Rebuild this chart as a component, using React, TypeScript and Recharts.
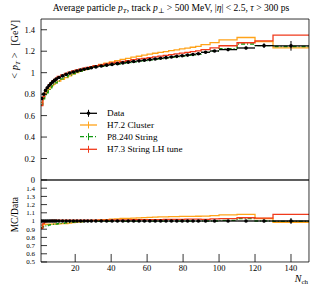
import { ComposedChart, Line, Scatter, XAxis, YAxis, ErrorBar } from 'recharts';

// Nch bin edges (46 edges -> 45 bins)
const binEdges = [
  1, 2, 3, 4, 5, 6, 7, 8, 9, 10,
  12, 14, 16, 18, 20, 22, 24, 26, 28, 30,
  33, 36, 39, 42, 45, 48, 51, 54, 57, 60,
  63, 66, 69, 72, 75, 78, 81, 84, 87, 90,
  95, 100, 110, 120, 130, 150,
];

// <pT> [GeV] per bin
const dataMean = [
  0.760, 0.800, 0.835, 0.860, 0.880, 0.898, 0.914, 0.928, 0.940,
  0.955, 0.970, 0.984, 0.996, 1.006, 1.015, 1.024, 1.032, 1.039, 1.046,
  1.054, 1.062, 1.070, 1.077, 1.084, 1.091, 1.098, 1.104, 1.110, 1.116,
  1.122, 1.128, 1.134, 1.140, 1.146, 1.152, 1.158, 1.164, 1.170, 1.177,
  1.190, 1.202, 1.215, 1.230, 1.252, 1.250,
];
const dataErr = [
  0.004, 0.004, 0.004, 0.004, 0.004, 0.004, 0.004, 0.004, 0.004,
  0.004, 0.004, 0.004, 0.004, 0.004, 0.004, 0.004, 0.004, 0.004, 0.004,
  0.004, 0.004, 0.004, 0.004, 0.004, 0.004, 0.004, 0.004, 0.004, 0.004,
  0.004, 0.004, 0.004, 0.004, 0.004, 0.004, 0.004, 0.004, 0.005, 0.005,
  0.006, 0.007, 0.009, 0.013, 0.022, 0.045,
];
const h72Cluster = [
  0.722, 0.764, 0.800, 0.826, 0.845, 0.864, 0.879, 0.894, 0.905,
  0.922, 0.938, 0.954, 0.971, 0.986, 1.000, 1.014, 1.027, 1.039, 1.050,
  1.062, 1.076, 1.089, 1.101, 1.112, 1.124, 1.134, 1.144, 1.153, 1.163,
  1.172, 1.181, 1.190, 1.197, 1.206, 1.213, 1.222, 1.229, 1.237, 1.245,
  1.261, 1.280, 1.306, 1.328, 1.290, 1.231,
];
const p8String = [
  0.699, 0.744, 0.785, 0.813, 0.836, 0.858, 0.876, 0.892, 0.905,
  0.923, 0.943, 0.961, 0.977, 0.991, 1.003, 1.015, 1.025, 1.034, 1.043,
  1.052, 1.059, 1.067, 1.074, 1.081, 1.088, 1.095, 1.101, 1.107, 1.113,
  1.119, 1.125, 1.131, 1.137, 1.143, 1.149, 1.155, 1.161, 1.167, 1.173,
  1.190, 1.202, 1.225, 1.267, 1.252, 1.244,
];
const h73String = [
  0.692, 0.776, 0.827, 0.860, 0.884, 0.905, 0.923, 0.937, 0.949,
  0.965, 0.980, 0.994, 1.006, 1.016, 1.025, 1.034, 1.042, 1.049, 1.056,
  1.065, 1.073, 1.082, 1.090, 1.097, 1.105, 1.113, 1.121, 1.128, 1.134,
  1.141, 1.148, 1.154, 1.162, 1.169, 1.175, 1.182, 1.190, 1.196, 1.204,
  1.214, 1.232, 1.251, 1.279, 1.296, 1.350,
];

const xTicks = [20, 40, 60, 80, 100, 120, 140];
const mainYTicks = [0, 0.2, 0.4, 0.6, 0.8, 1, 1.2, 1.4];
const ratioYTicks = [0.5, 0.6, 0.7, 0.8, 0.9, 1, 1.1, 1.2, 1.3, 1.4];

const xMinor = Array.from({ length: 30 }, (_, i) => i * 5).filter((v) => v >= 1);
const mainYMinor = Array.from({ length: 31 }, (_, i) => +(i * 0.05).toFixed(2));
const ratioYMinor = Array.from({ length: 51 }, (_, i) => +(0.5 + i * 0.02).toFixed(2));

const FONT = '"Liberation Serif", "DejaVu Serif", serif';
const BLACK = '#000000';
const ORANGE = '#ffa31a';
const GREEN = '#119911';
const RED = '#f03a1c';
const THIN = 0.01; // axes need a non-zero size to be drawn

const last = dataMean.length - 1;
const histRows = binEdges.map((x, i) => {
  const k = Math.min(i, last);
  return {
    x,
    h72: h72Cluster[k],
    p8: p8String[k],
    h73: h73String[k],
    h72r: h72Cluster[k] / dataMean[k],
    p8r: p8String[k] / dataMean[k],
    h73r: h73String[k] / dataMean[k],
  };
});

const pointRows = dataMean.map((y, i) => ({
  x: (binEdges[i] + binEdges[i + 1]) / 2,
  xerr: (binEdges[i + 1] - binEdges[i]) / 2,
  y,
  yerr: dataErr[i],
  r: 1,
  rerr: dataErr[i] / y,
}));

const frameLine = { stroke: BLACK, strokeWidth: 0.8 };

function frameAxes(
  yDomain: [number, number],
  yMajor: number[],
  yMinor: number[],
  showX: boolean,
  yFontSize: number,
) {
  const yFont = { fontSize: yFontSize, fontFamily: FONT, fill: BLACK };
  const xFont = { fontSize: 8.5, fontFamily: FONT, fill: BLACK };
  return [
    <XAxis key="xb" xAxisId="b" dataKey="x" type="number" domain={[1, 150]} allowDataOverflow
      orientation="bottom" ticks={xTicks} interval={0} height={THIN} tickSize={-8}
      tickMargin={showX ? 11 : 0} tick={showX ? xFont : false} axisLine={frameLine} tickLine={frameLine} />,
    <XAxis key="xbm" xAxisId="bm" dataKey="x" type="number" domain={[1, 150]} allowDataOverflow
      orientation="bottom" ticks={xMinor} interval={0} height={THIN} tickSize={-4}
      tick={false} axisLine={false} tickLine={frameLine} />,
    <XAxis key="xt" xAxisId="t" dataKey="x" type="number" domain={[1, 150]} allowDataOverflow
      orientation="top" ticks={xTicks} interval={0} height={THIN} tickSize={-8}
      tick={false} axisLine={frameLine} tickLine={frameLine} />,
    <XAxis key="xtm" xAxisId="tm" dataKey="x" type="number" domain={[1, 150]} allowDataOverflow
      orientation="top" ticks={xMinor} interval={0} height={THIN} tickSize={-4}
      tick={false} axisLine={false} tickLine={frameLine} />,
    <YAxis key="yl" yAxisId="l" type="number" domain={yDomain} allowDataOverflow
      orientation="left" ticks={yMajor} interval={0} width={THIN} tickSize={-6} tickMargin={12}
      tick={yFont} axisLine={frameLine} tickLine={frameLine} />,
    <YAxis key="ylm" yAxisId="lm" type="number" domain={yDomain} allowDataOverflow
      orientation="left" ticks={yMinor} interval={0} width={THIN} tickSize={-3}
      tick={false} axisLine={false} tickLine={frameLine} />,
    <YAxis key="yr" yAxisId="r" type="number" domain={yDomain} allowDataOverflow
      orientation="right" ticks={yMajor} interval={0} width={THIN} tickSize={-6}
      tick={false} axisLine={frameLine} tickLine={frameLine} />,
    <YAxis key="yrm" yAxisId="rm" type="number" domain={yDomain} allowDataOverflow
      orientation="right" ticks={yMinor} interval={0} width={THIN} tickSize={-3}
      tick={false} axisLine={false} tickLine={frameLine} />,
  ];
}

const dot = (p: any) => <circle cx={p.cx} cy={p.cy} r={1.8} fill={BLACK} />;

function LegendRow({ y, color, label, dash, marker }: { y: number; color: string; label: string; dash?: string; marker?: boolean }) {
  return (
    <g>
      <line x1={80} x2={97} y1={y} y2={y} stroke={color} strokeWidth={1.3} strokeDasharray={dash} />
      <line x1={88.5} x2={88.5} y1={y - 3.5} y2={y + 3.5} stroke={color} strokeWidth={1} />
      {marker && <circle cx={88.5} cy={y} r={1.8} fill={color} />}
      <text x={107} y={y + 3} fontSize={9.2} fill={BLACK}>{label}</text>
    </g>
  );
}

export default function App() {
  return (
    <div style={{ position: 'absolute', left: 0, top: 0, width: 319, height: 288, background: '#fff' }}>
      <div style={{ position: 'absolute', left: 0, top: 0 }}>
        <ComposedChart width={319} height={190} margin={{ top: 19, right: 10, bottom: 10, left: 41 }}>
          {frameAxes([0, 1.5], mainYTicks, mainYMinor, false, 8.5)}
          <Line xAxisId="b" yAxisId="l" data={histRows} dataKey="h72" type="stepAfter" stroke={ORANGE}
            strokeWidth={1.3} dot={false} isAnimationActive={false} />
          <Line xAxisId="b" yAxisId="l" data={histRows} dataKey="p8" type="stepAfter" stroke={GREEN}
            strokeWidth={1.3} strokeDasharray="4 2 1 2" dot={false} isAnimationActive={false} />
          <Line xAxisId="b" yAxisId="l" data={histRows} dataKey="h73" type="stepAfter" stroke={RED}
            strokeWidth={1.3} dot={false} isAnimationActive={false} />
          <Scatter xAxisId="b" yAxisId="l" data={pointRows} dataKey="y" shape={dot} isAnimationActive={false}>
            <ErrorBar dataKey="xerr" direction="x" width={0} stroke={BLACK} strokeWidth={1.3} />
            <ErrorBar dataKey="yerr" direction="y" width={0} stroke={BLACK} strokeWidth={1} />
          </Scatter>
        </ComposedChart>
      </div>
      <div style={{ position: 'absolute', left: 0, top: 172 }}>
        <ComposedChart width={319} height={116} margin={{ top: 8, right: 10, bottom: 26, left: 41 }}>
          {frameAxes([0.5, 1.5], ratioYTicks, ratioYMinor, true, 7)}
          <Line xAxisId="b" yAxisId="l" data={histRows} dataKey="h72r" type="stepAfter" stroke={ORANGE}
            strokeWidth={1.3} dot={false} isAnimationActive={false} />
          <Line xAxisId="b" yAxisId="l" data={histRows} dataKey="p8r" type="stepAfter" stroke={GREEN}
            strokeWidth={1.3} strokeDasharray="4 2 1 2" dot={false} isAnimationActive={false} />
          <Line xAxisId="b" yAxisId="l" data={histRows} dataKey="h73r" type="stepAfter" stroke={RED}
            strokeWidth={1.3} dot={false} isAnimationActive={false} />
          <Scatter xAxisId="b" yAxisId="l" data={pointRows} dataKey="r" shape={dot} isAnimationActive={false}>
            <ErrorBar dataKey="xerr" direction="x" width={0} stroke={BLACK} strokeWidth={1.3} />
            <ErrorBar dataKey="rerr" direction="y" width={0} stroke={BLACK} strokeWidth={1} />
          </Scatter>
        </ComposedChart>
      </div>
      <svg width={319} height={288} style={{ position: 'absolute', left: 0, top: 0, pointerEvents: 'none' }}
        fontFamily={FONT}>
        <text x={171} y={11} fontSize={9.6} textAnchor="middle" fill={BLACK}>
          Average particle <tspan fontStyle="italic">p</tspan>
          <tspan fontSize={7} fontStyle="italic" dy={2}>T</tspan>
          <tspan dy={-2}>, track </tspan>
          <tspan fontStyle="italic">p</tspan>
          <tspan fontSize={7} dy={2}>⊥</tspan>
          <tspan dy={-2}> &gt; 500 MeV, |</tspan>
          <tspan fontStyle="italic">η</tspan>
          <tspan>| &lt; 2.5, </tspan>
          <tspan fontStyle="italic">τ</tspan>
          <tspan> &gt; 300 ps</tspan>
        </text>
        <text transform="rotate(-90)" x={-20} y={18} fontSize={10} textAnchor="end" fill={BLACK}>
          &lt;<tspan dx={3} fontStyle="italic">p</tspan>
          <tspan fontSize={7} fontStyle="italic" dy={2}>T</tspan>
          <tspan dx={3} dy={-2}>&gt;</tspan>
          <tspan dx={7}>[GeV]</tspan>
        </text>
        <text transform="rotate(-90)" x={-197} y={18} fontSize={9.5} textAnchor="end" fill={BLACK}>
          MC/Data
        </text>
        <text x={308} y={282} fontSize={10} textAnchor="end" fill={BLACK}>
          <tspan fontStyle="italic">N</tspan>
          <tspan fontSize={7} dy={2}>ch</tspan>
        </text>
        <LegendRow y={113.3} color={BLACK} label="Data" marker />
        <LegendRow y={125} color={ORANGE} label="H7.2 Cluster" />
        <LegendRow y={136.7} color={GREEN} label="P8.240 String" dash="4 2 1 2" />
        <LegendRow y={149.3} color={RED} label="H7.3 String LH tune" />
      </svg>
    </div>
  );
}
